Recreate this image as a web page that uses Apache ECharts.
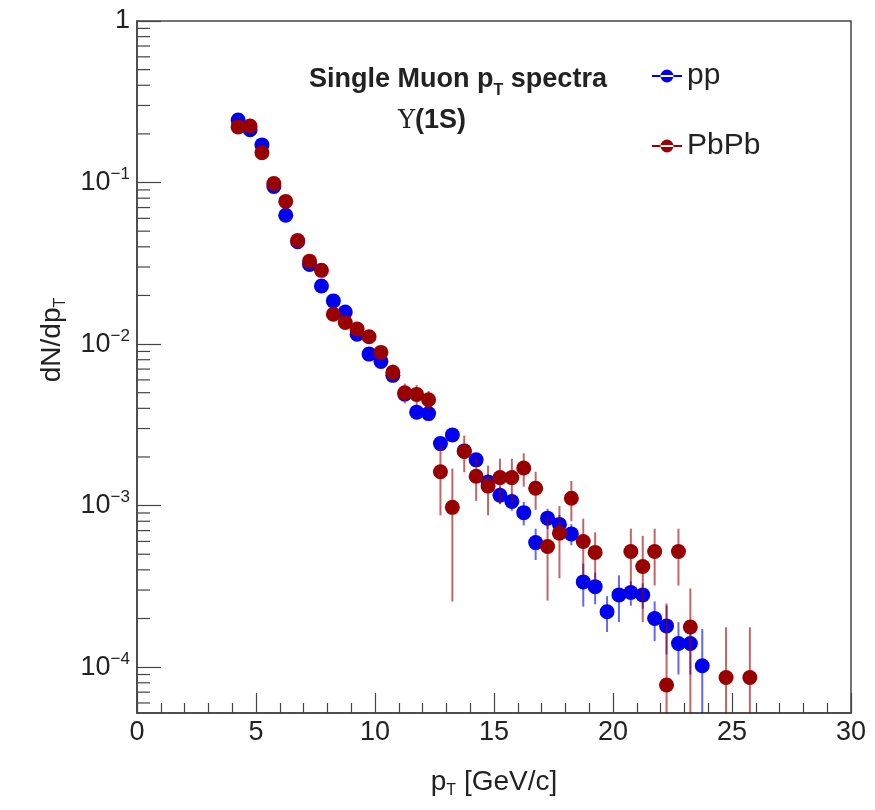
<!DOCTYPE html>
<html><head><meta charset="utf-8">
<script src="https://cdn.jsdelivr.net/npm/echarts@6/dist/echarts.min.js"></script>
<style>html,body{margin:0;padding:0;background:#fff}#c{width:875px;height:810px}</style>
</head><body><div id="c"></div>
<script>
// bin centres in pT [GeV/c]
const ptBins = [4.25,4.75,5.25,5.75,6.25,6.75,7.25,7.75,8.25,8.75,9.25,9.75,10.25,10.75,11.25,11.75,12.25,12.75,13.25,13.75,14.25,14.75,15.25,15.75,16.25,16.75,17.25,17.75,18.25,18.75,19.25,19.75,20.25,20.75,21.25,21.75,22.25,22.75,23.25,23.75,24.25,24.75,25.25,25.75];
const ppValues = [0.244,0.212,0.171,0.0945,0.0627,0.0430,0.0311,0.0229,0.0185,0.0158,0.0115,0.00867,0.00781,0.0064,0.0049,0.00379,0.00371,0.00242,0.00274,0.00218,0.00192,0.00140,0.00116,0.00106,0.000904,0.00059,0.000836,0.000765,0.000668,0.000337,0.000315,0.00022,0.00028,0.00029,0.00028,0.0002,0.00018,0.00014,0.00014,0.000102,null,null,null,null];
const ppErrors = [0.005,0.004,0.004,0.0025,0.002,0.0015,0.0012,0.001,0.0008,0.0007,0.0006,0.0005,0.00045,0.0004,0.00035,0.0003,0.0003,0.00022,0.00024,0.0002,0.00018,0.00016,0.00014,0.00013,0.00015,0.00013,0.00012,0.00011,0.0001,0.0001,0.00007,0.000055,0.00009,0.00005,0.00005,0.000055,0.00006,0.00005,0.00005,0.00007,null,null,null,null];
const pbpbValues = [0.221,0.224,0.153,0.0986,0.0764,0.0437,0.0326,0.0286,0.0153,0.0136,0.0124,0.0111,0.00888,0.00668,0.00499,0.00488,0.00452,0.00162,0.000975,0.00216,0.00152,0.00132,0.00149,0.00149,0.00171,0.00128,0.000558,0.000675,0.00111,0.0006,0.000513,null,null,0.00052,0.00042,0.00052,0.0000775,0.00052,0.000177,null,null,0.0000863,null,0.0000863];
const pbpbErrors = [0.008,0.008,0.006,0.004,0.0035,0.0025,0.002,0.0018,0.0013,0.0012,0.0011,0.001,0.0009,0.0008,0.0007,0.0007,0.0006,0.00075,0.00072,0.00055,0.00045,0.00045,0.00046,0.00046,0.0004,0.00034,0.0003,0.00032,0.00031,0.00023,0.00017,null,null,0.0002,0.00023,0.0002,0.00017,0.0002,0.00013,null,null,0.00009,null,0.00009];
const seriesNames = ['pp','PbPb'];
const xMin = 0, xMax = 30, xStep = 5;
const yMin = 5.2e-5, yMax = 1;
const yDecades = [-4,-3,-2,-1,0];

const FONT = '"Liberation Sans", Arial, Helvetica, sans-serif';
const ppColor = '#0000f0', pbColor = '#980000';

function points(vals, errs) {
  const out = [];
  ptBins.forEach((x, i) => { if (vals[i] != null) out.push([x, vals[i], errs[i]]); });
  return out;
}
const ppPts = points(ppValues, ppErrors);
const pbPts = points(pbpbValues, pbpbErrors);

function errRender(color) {
  return function (params, api) {
    const x = api.value(0), v = api.value(1), e = api.value(2);
    const lo = v - e > 0 ? v - e : yMin / 100;
    const p1 = api.coord([x, v + e]);
    const p2 = api.coord([x, lo]);
    return { type: 'line', shape: { x1: p1[0], y1: p1[1], x2: p2[0], y2: p2[1] },
      style: { stroke: color, lineWidth: 2, opacity: 0.6 } };
  };
}

// minor ticks of the log axis at 2..9 x 10^n
const yMinorTicks = [];
for (let d = -5; d < 0; d++) for (let m = 2; m <= 9; m++) {
  const v = m * Math.pow(10, d);
  if (v > yMin && v < yMax) yMinorTicks.push([xMin, v]);
}

const legendIcon = 'path://M0,6 L30,6 L30,8 L0,8 Z M8.5,7 A6.5,6.5 0 1,0 21.5,7 A6.5,6.5 0 1,0 8.5,7 Z';

const chart = echarts.init(document.getElementById('c'));
chart.setOption({
  animation: false,
  grid: { left: 137, right: 24, top: 21, bottom: 97, show: true, borderColor: '#444', borderWidth: 1.5 },
  xAxis: {
    type: 'value', min: xMin, max: xMax, interval: xStep,
    name: '{m|p}{s|T}{m| [GeV/c]}', nameLocation: 'middle', nameGap: 52,
    nameTextStyle: { rich: { m: { fontSize: 28, fontFamily: FONT, color: '#222' },
      s: { fontSize: 16, fontFamily: FONT, color: '#222', padding: [18, 0, 0, 0] } } },
    axisLine: { show: true, lineStyle: { color: '#444', width: 1.5 } },
    axisTick: { show: true, inside: true, length: 20, lineStyle: { color: '#444', width: 1.2 } },
    minorTick: { show: true, splitNumber: 5, length: 10, lineStyle: { color: '#444', width: 1.2 } },
    axisLabel: { fontSize: 27, fontFamily: FONT, color: '#222', margin: 6 },
    splitLine: { show: false }
  },
  yAxis: {
    type: 'log', logBase: 10, min: yMin, max: yMax,
    name: '{m|dN/dp}{s|T}', nameLocation: 'middle', nameGap: 68, nameRotate: 90,
    nameTextStyle: { padding: [0, 0, 0, 54], rich: { m: { fontSize: 28, fontFamily: FONT, color: '#222' },
      s: { fontSize: 16, fontFamily: FONT, color: '#222', padding: [18, 0, 0, 0] } } },
    axisLine: { show: true, lineStyle: { color: '#444', width: 1.5 } },
    axisTick: { show: true, inside: true, length: 24, lineStyle: { color: '#444', width: 1.2 } },
    axisLabel: {
      showMinLabel: false, margin: 7,
      formatter: function (v) {
        const e = Math.round(Math.log10(v));
        if (yDecades.indexOf(e) < 0 || Math.abs(Math.log10(v) - e) > 1e-6) return '';
        if (e === 0) return '{n|1}';
        return '{n|10}{sup|\u2212' + (-e) + '}';
      },
      rich: { n: { fontSize: 27, fontFamily: FONT, color: '#222' },
        sup: { fontSize: 17, fontFamily: FONT, color: '#222', padding: [0, 0, 16, 0] } }
    },
    splitLine: { show: false }
  },
  legend: {
    data: seriesNames, orient: 'vertical', left: 647, top: 56,
    itemWidth: 30, itemHeight: 14, itemGap: 40, icon: legendIcon,
    textStyle: { fontSize: 30, fontFamily: FONT, color: '#222' }
  },
  graphic: [
    { type: 'text', x: 458, y: 80, silent: true,
      style: { text: '{b|Single Muon p}{s|T}{b| spectra}', align: 'center', verticalAlign: 'middle',
        textAlign: 'center', textVerticalAlign: 'middle',
        rich: { b: { fontSize: 27, fontWeight: 'bold', fontFamily: FONT, fill: '#222' },
          s: { fontSize: 16, fontWeight: 'bold', fontFamily: FONT, fill: '#222', padding: [22, 0, 0, 0] } } } },
    { type: 'text', x: 432, y: 121, silent: true,
      style: { text: '{u|\u03A5}{b|(1S)}', align: 'center', verticalAlign: 'middle',
        textAlign: 'center', textVerticalAlign: 'middle',
        rich: { u: { fontSize: 26, fontFamily: '"DejaVu Serif", "Liberation Serif", serif', fill: '#222' },
          b: { fontSize: 27, fontWeight: 'bold', fontFamily: FONT, fill: '#222' } } } }
  ],
  series: [
    { type: 'custom', name: 'yMinorTicks', silent: true, data: yMinorTicks, z: 1,
      renderItem: function (params, api) {
        const p = api.coord([api.value(0), api.value(1)]);
        return { type: 'line', shape: { x1: p[0], y1: p[1], x2: p[0] + 13, y2: p[1] },
          style: { stroke: '#444', lineWidth: 1.2 } };
      } },
    { type: 'custom', name: 'pp err', data: ppPts, renderItem: errRender(ppColor), clip: true, z: 2, silent: true },
    { type: 'scatter', name: 'pp', data: ppPts.map(p => [p[0], p[1]]), symbol: 'circle', symbolSize: 15,
      itemStyle: { color: ppColor, opacity: 1 }, z: 3 },
    { type: 'custom', name: 'PbPb err', data: pbPts, renderItem: errRender(pbColor), clip: true, z: 4, silent: true },
    { type: 'scatter', name: 'PbPb', data: pbPts.map(p => [p[0], p[1]]), symbol: 'circle', symbolSize: 15,
      itemStyle: { color: pbColor, opacity: 1 }, z: 5 }
  ]
});
</script></body></html>
